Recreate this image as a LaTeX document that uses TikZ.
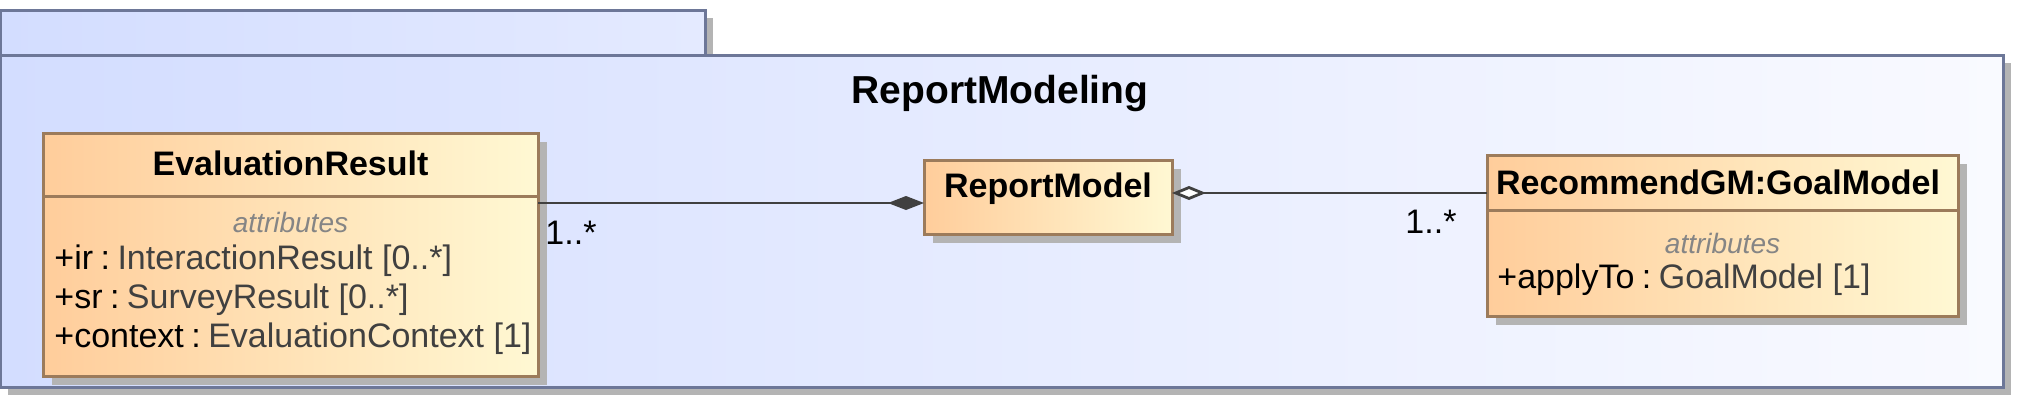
\documentclass[tikz,border=0pt]{standalone}
\usepackage{fontspec}
\setmainfont{Liberation Sans}
\usetikzlibrary{arrows.meta,shadows,calc}
\definecolor{pkgL}{HTML}{D3DDFF}
\definecolor{pkgR}{HTML}{F9FAFF}
\definecolor{pkgB}{HTML}{6D7798}
\definecolor{boxL}{HTML}{FFCD9B}
\definecolor{boxR}{HTML}{FFF8D3}
\definecolor{boxB}{HTML}{9C7B5B}
\definecolor{shd}{HTML}{B4B4B4}
\definecolor{typec}{HTML}{404040}
\definecolor{attrc}{HTML}{858585}
\definecolor{linec}{HTML}{404040}
\newcommand{\colsep}{\hspace{0.22em}:\hspace{0.22em}}
\begin{document}
\begin{tikzpicture}[x=0.5pt,y=-0.5pt,
  pkgbox/.style={draw=pkgB,line width=1.5pt,
    drop shadow={shadow xshift=4pt,shadow yshift=-4pt,fill=shd,opacity=1},
    inner sep=0pt,outer sep=0pt},
  classbox/.style={draw=boxB,line width=1.5pt,left color=boxL,right color=boxR,
    drop shadow={shadow xshift=4.5pt,shadow yshift=-4.5pt,fill=shd,opacity=1},
    inner sep=0pt,outer sep=0pt},
  divider/.style={draw=boxB,line width=1.5pt},
  ttl/.style={font=\fontsize{17}{20}\selectfont\bfseries,inner sep=0pt},
  pkgttl/.style={font=\fontsize{19.5}{23}\selectfont\bfseries,inner sep=0pt},
  attrhdr/.style={font=\fontsize{14}{17}\selectfont\itshape,text=attrc,inner sep=0pt},
  attrline/.style={font=\fontsize{17}{20}\selectfont,anchor=west,inner sep=0pt},
  mult/.style={font=\fontsize{17}{20}\selectfont,inner sep=0pt},
  assoc/.style={draw=linec,line width=1.4pt},
]
\useasboundingbox (0,0) rectangle (2024,402);
% package
\node[pkgbox,left color=pkgL,right color=pkgL!55!pkgR,minimum width=352.5pt,minimum height=22.5pt] (tab) at (352.5,32.5) {};
\node[pkgbox,left color=pkgL,right color=pkgR,minimum width=1001.5pt,minimum height=166pt] (pkg) at (1001.5,221) {};
\node[pkgttl] (ptitle) at (1000,93) {ReportModeling};
% EvaluationResult
\node[classbox,minimum width=247.5pt,minimum height=121.5pt] (er) at (290.5,254.5) {};
\draw[divider] (43,196) -- (538,196);
\node[ttl] (ert) at (290.5,163) {EvaluationResult};
\node[attrhdr] (era) at (290.5,222) {attributes};
\node[attrline] (er1) at (54,261) {+ir\colsep\textcolor{typec}{InteractionResult [0..*]}};
\node[attrline] (er2) at (54,300) {+sr\colsep\textcolor{typec}{SurveyResult [0..*]}};
\node[attrline] (er3) at (54,339) {+context\colsep\textcolor{typec}{EvaluationContext [1]}};
% ReportModel
\node[classbox,minimum width=124pt,minimum height=37pt] (rm) at (1048,197) {};
\node[ttl] (rmt) at (1048,189) {ReportModel};
% GoalModel
\node[classbox,minimum width=235.5pt,minimum height=80.5pt] (gm) at (1722.5,235.5) {};
\draw[divider] (1487,210) -- (1958,210);
\node[ttl] (gmt) at (1718,182) {RecommendGM:GoalModel};
\node[attrhdr] (gma) at (1722.5,243) {attributes};
\node[attrline] (gm1) at (1497,280) {+applyTo\colsep\textcolor{typec}{GoalModel [1]}};
% connectors
\coordinate (l1) at ([yshift=-3pt]rm.west);
\draw[assoc,-{Diamond[length=18pt,width=7pt,fill=linec]}] (l1 -| er.east) -- (l1);
\coordinate (l2) at ([yshift=2pt]rm.east);
\draw[assoc,-{Diamond[length=17pt,width=7pt,open,fill=white]}] (l2 -| gm.west) -- (l2);
\node[mult] (m1) at (571,233) {1..*};
\node[mult] (m2) at (1431,222) {1..*};
\end{tikzpicture}
\end{document}
